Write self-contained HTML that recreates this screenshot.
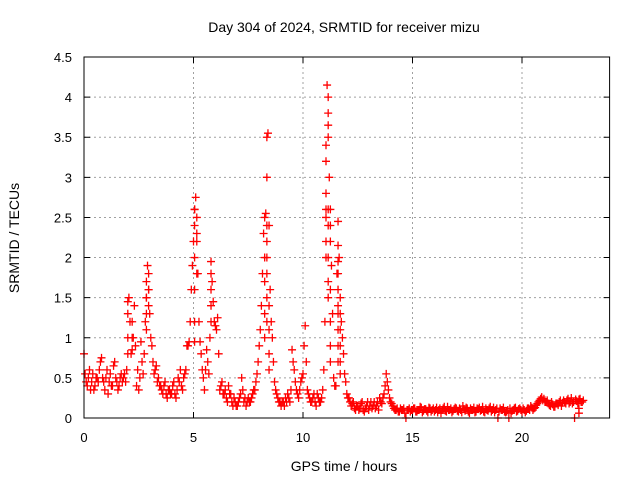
<!DOCTYPE html>
<html><head><meta charset="utf-8"><style>
html,body{margin:0;padding:0;background:#fff;}
svg{display:block;font-family:"Liberation Sans",sans-serif;}
</style></head><body>
<svg id="chart" width="640" height="480" viewBox="0 0 640 480">
<rect width="640" height="480" fill="#fff"/>
<text x="344" y="32" font-size="14" text-anchor="middle" fill="#000">Day 304 of 2024, SRMTID for receiver mizu</text>
<text transform="translate(19,238) rotate(-90)" font-size="14" text-anchor="middle" fill="#000">SRMTID / TECUs</text>
<text x="344" y="471" font-size="14" text-anchor="middle" fill="#000">GPS time / hours</text>
<g id="grid"></g><g id="ticks"></g><g id="marks"></g>
<rect x="84" y="57" width="525.6" height="361" fill="none" stroke="#000" stroke-width="1"/>
</svg>
<script>
const xTicks=[0,5,10,15,20];
const yTicks=[0,0.5,1,1.5,2,2.5,3,3.5,4,4.5];
const yTickLabels=["0","0.5","1","1.5","2","2.5","3","3.5","4","4.5"];
const baseStep=0.1;
const baseValues=[
0.8,0.45,0.5,0.35,0.55,0.4,0.5,0.6,0.75,0.45,0.5,0.3,0.55,0.4,0.7,0.45,0.4,0.55,0.5,0.45,
1.45,1.2,0.85,1.4,0.4,0.35,0.95,0.55,1.2,1.9,
1.3,0.9,0.55,0.65,0.5,0.4,0.3,0.45,0.25,0.35,
0.3,0.45,0.25,0.5,0.6,0.35,0.55,0.9,0.95,1.6,
2.2,2.75,1.8,0.95,0.6,0.35,0.85,0.55,1.95,1.45,
1.15,1.25,0.35,0.45,0.3,0.25,0.4,0.3,0.15,0.2,
0.15,0.25,0.5,0.2,0.15,0.25,0.2,0.3,0.35,0.55,
0.9,1.4,2.3,2.55,3.55,1.6,1.0,0.45,0.3,0.2,
0.15,0.2,0.25,0.3,0.2,0.85,0.6,0.35,0.25,0.45,
0.55,1.15,0.35,0.25,0.2,0.3,0.15,0.25,0.2,0.35,
1.2,4.15,3.0,1.9,0.5,0.4,2.45,1.5,1.0,0.55,
0.3,0.25,0.15,0.2,0.1,0.15,0.12,0.2,0.08,0.15,
0.1,0.2,0.15,0.12,0.2,0.25,0.18,0.3,0.55,0.35,
0.2,0.15,0.1,0.12,0.08,0.1,0.12,0.0,0.1,0.08,
0.1,0.12,0.08,0.1,0.13,0.09,0.11,0.07,0.12,0.1,
0.08,0.13,0.1,0.06,0.12,0.09,0.14,0.1,0.07,0.11,
0.12,0.08,0.1,0.15,0.09,0.12,0.06,0.1,0.13,0.08,
0.11,0.09,0.14,0.07,0.1,0.12,0.08,0.13,0.1,0.0,
0.12,0.1,0.08,0.08,0.0,0.06,0.1,0.13,0.09,0.12,
0.08,0.1,0.09,0.12,0.15,0.1,0.13,0.18,0.22,0.26,
0.24,0.2,0.18,0.15,0.17,0.14,0.18,0.2,0.15,0.22,
0.18,0.24,0.2,0.18,0.0,0.21,0.23,0.2,0.22];
const midValues=[
0.55,0.4,0.6,0.45,0.35,0.5,0.45,0.7,0.5,0.35,0.6,0.45,0.4,0.65,0.5,0.35,0.5,0.45,0.55,0.6,
1.5,0.8,1.0,0.9,0.6,0.5,0.7,0.8,1.5,1.6,
1.0,0.7,0.6,0.45,0.4,0.35,0.4,0.3,0.35,0.3,
0.4,0.3,0.35,0.45,0.4,0.5,0.6,0.9,1.2,1.9,
2.6,2.3,1.2,0.8,0.5,0.6,0.7,1.0,1.7,1.2,
1.1,0.8,0.4,0.3,0.35,0.2,0.3,0.2,0.25,0.15,
0.2,0.3,0.35,0.25,0.2,0.2,0.25,0.35,0.45,0.7,
1.1,1.8,2.5,3.0,2.4,1.2,0.7,0.35,0.25,0.2,
0.2,0.15,0.2,0.25,0.35,0.7,0.45,0.3,0.35,0.5,
0.9,0.7,0.3,0.2,0.25,0.2,0.3,0.2,0.25,0.6,
2.6,3.5,2.4,1.3,0.4,1.8,2.0,1.2,0.8,0.45,
0.25,0.2,0.18,0.12,0.15,0.1,0.18,0.1,0.12,0.2,
0.15,0.12,0.2,0.15,0.1,0.2,0.25,0.4,0.45,0.25,
0.18,0.12,0.1,0.08,0.12,0.1,0.06,0.1,0.12,0.1,
0.12,0.08,0.1,0.14,0.07,0.11,0.09,0.13,0.08,0.12,
0.1,0.07,0.12,0.1,0.14,0.08,0.1,0.12,0.09,0.13,
0.09,0.12,0.07,0.11,0.13,0.08,0.12,0.1,0.07,0.12,
0.13,0.1,0.08,0.12,0.09,0.14,0.1,0.07,0.12,0.08,
0.1,0.13,0.07,0.1,0.12,0.09,0.12,0.08,0.11,0.1,
0.12,0.07,0.12,0.1,0.13,0.12,0.16,0.2,0.24,0.22,
0.2,0.22,0.16,0.2,0.14,0.18,0.16,0.22,0.19,0.2,
0.22,0.18,0.25,0.2,0.23,0.18,0.24,0.2];
const extraTimes=[2.0,2.0,2.0,2.2,2.2,2.85,2.85,2.85,2.85,2.95,2.95,2.95,
5.05,5.05,5.05,5.05,5.05,5.05,5.15,5.15,5.15,5.8,5.8,5.8,5.8,
8.25,8.25,8.25,8.25,8.35,8.35,8.35,8.35,8.35,8.35,8.35,8.45,8.45,8.45,8.45,
11.05,11.05,11.05,11.05,11.05,11.05,11.15,11.15,11.15,11.15,11.15,11.15,11.15,11.15,
11.25,11.25,11.25,11.25,11.25,11.25,11.6,11.6,11.6,11.6,11.6,11.6,11.6,11.6,11.6,
11.7,11.7,11.7,11.7,11.7,22.6,22.6];
const extraValues=[1.3,1.0,0.8,1.2,1.0,1.7,1.5,1.3,1.1,1.8,1.6,1.4,
2.6,2.4,2.0,1.6,1.2,0.95,2.5,2.2,1.8,1.8,1.6,1.4,1.2,
2.0,1.7,1.3,1.0,3.5,2.4,2.2,2.0,1.8,1.5,1.2,1.4,1.1,0.8,0.6,
2.0,2.5,3.4,3.2,2.8,2.2,4.0,3.8,3.65,2.6,2.4,2.0,1.7,1.5,
2.6,2.2,1.6,1.2,0.9,0.7,2.15,1.95,1.8,1.6,1.4,1.3,1.1,0.9,0.7,
1.3,1.1,0.9,0.7,0.55,0.12,0.06];

const X0=84,X1=609.6,Y0=418,Y1=57,XMAX=24,YMAX=4.5;
const sx=t=>X0+(X1-X0)*t/XMAX;
const sy=v=>Y0-(Y0-Y1)*v/YMAX;
const NS="http://www.w3.org/2000/svg";
const grid=document.getElementById('grid'),ticks=document.getElementById('ticks'),marks=document.getElementById('marks');
function mk(tag,attrs,parent){const e=document.createElementNS(NS,tag);for(const k in attrs)e.setAttribute(k,attrs[k]);parent.appendChild(e);return e;}
xTicks.forEach(t=>{
 const x=sx(t);
 if(t>0){const g=mk('line',{x1:x,x2:x,y1:Y1,y2:Y0,stroke:'#a0a0a0','stroke-dasharray':'2,3'},grid);
 
 }
 const tk=mk('path',{d:`M${x},${Y0}v-6M${x},${Y1}v6`,stroke:'#000'},ticks);
 
 
 const lb=mk('text',{x:x,y:442,'font-size':13,'text-anchor':'middle'},ticks);lb.textContent=t;
 
 
});
yTicks.forEach((v,i)=>{
 const y=sy(v);
 if(v>0&&v<YMAX){const g=mk('line',{x1:X0,x2:X1,y1:y,y2:y,stroke:'#a0a0a0','stroke-dasharray':'2,3'},grid);
 
 }
 const tk=mk('path',{d:`M${X0},${y}h6M${X1},${y}h-6`,stroke:'#000'},ticks);
 
 
 const lb=mk('text',{x:72,y:y+5,'font-size':13,'text-anchor':'end'},ticks);lb.textContent=yTickLabels[i];
 
 
});
function plus(t,v){
 const x=sx(t),y=sy(v);
 const p=mk('path',{d:`M${x-4},${y}h8M${x},${y-4}v8`,stroke:'#ff0000','stroke-width':1.3},marks);
 
 
}
baseValues.forEach((v,i)=>plus(i*baseStep,v));
midValues.forEach((v,i)=>plus(0.05+i*baseStep,v));
extraTimes.forEach((t,i)=>plus(t,extraValues[i]));
</script>
</body></html>
